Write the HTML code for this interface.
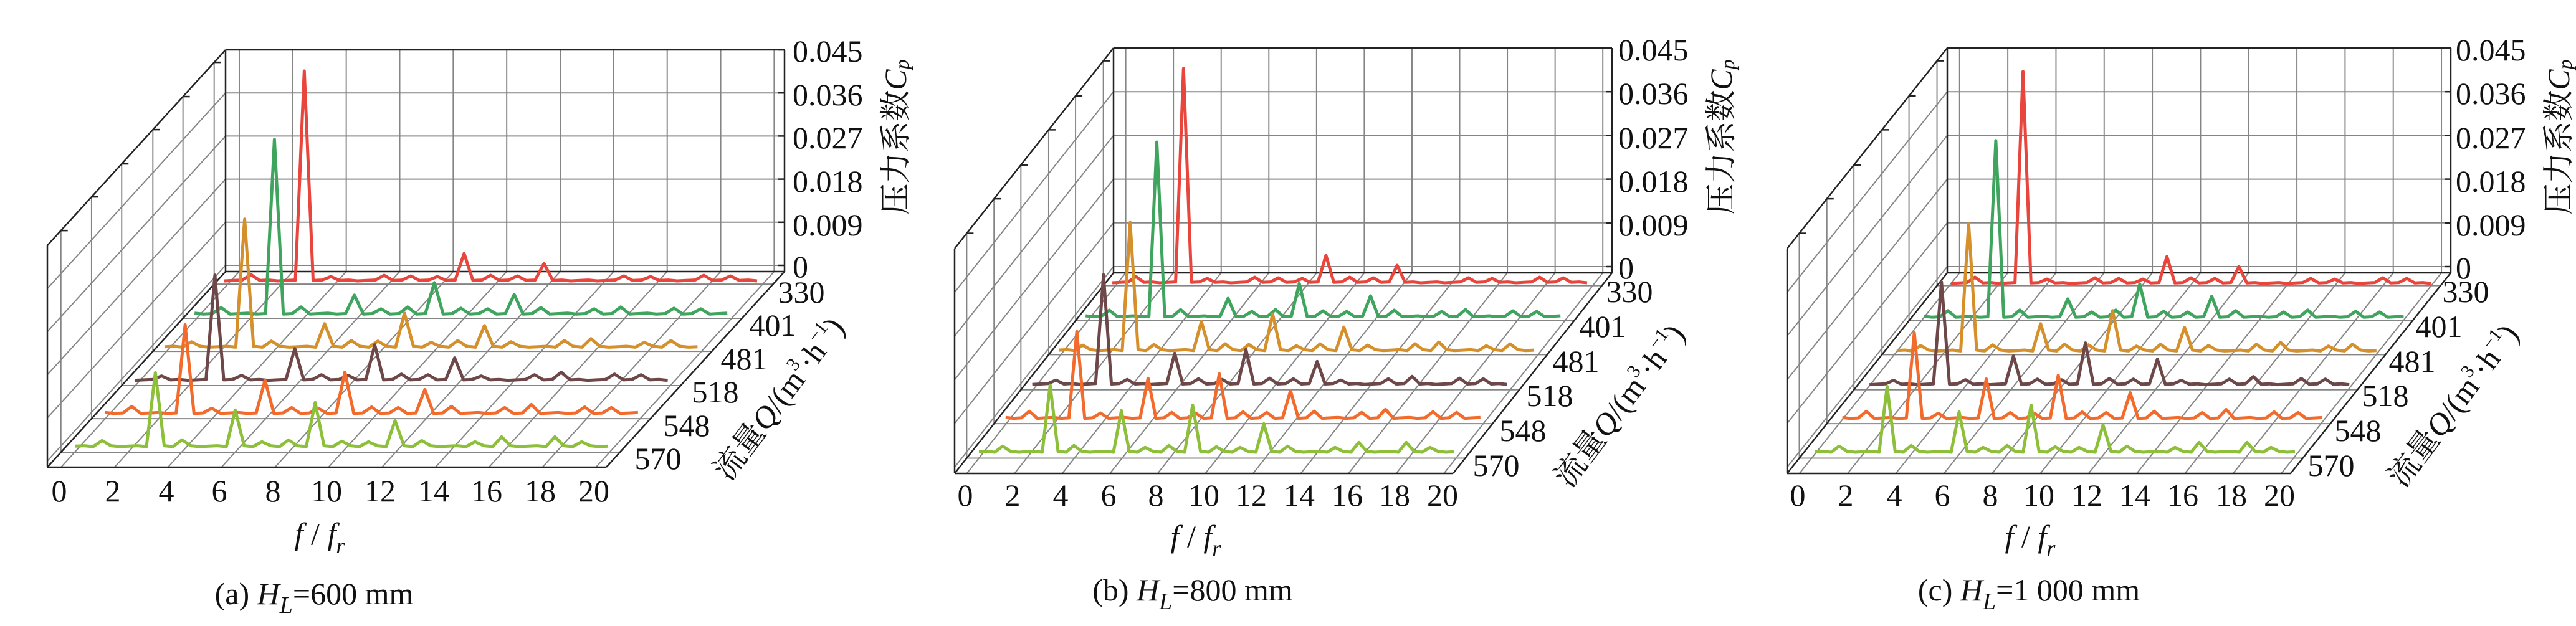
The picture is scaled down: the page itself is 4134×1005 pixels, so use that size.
<!DOCTYPE html>
<html><head><meta charset="utf-8"><style>
html,body{margin:0;padding:0;background:#fff;}
svg{display:block;}
text{font-family:"Liberation Serif","Noto Serif CJK SC",serif;fill:#111;}
.t{font-size:50px;}
.cj{font-family:"Liberation Serif","Noto Sans CJK SC",sans-serif;}
</style></head><body>
<svg id="s" width="4134" height="1005" viewBox="0 0 4134 1005" xmlns="http://www.w3.org/2000/svg">
<g id="g"></g>
<g class="t" text-anchor="middle" dominant-baseline="central">
<text x="95" y="788">0</text><text x="181" y="788">2</text><text x="267" y="788">4</text><text x="352" y="788">6</text><text x="438" y="788">8</text><text x="524" y="788">10</text><text x="610" y="788">12</text><text x="696" y="788">14</text><text x="781" y="788">16</text><text x="867" y="788">18</text><text x="953" y="788">20</text>
<text x="1549" y="795">0</text><text x="1625" y="795">2</text><text x="1702" y="795">4</text><text x="1779" y="795">6</text><text x="1855" y="795">8</text><text x="1932" y="795">10</text><text x="2008" y="795">12</text><text x="2085" y="795">14</text><text x="2162" y="795">16</text><text x="2238" y="795">18</text><text x="2315" y="795">20</text>
<text x="2885" y="795">0</text><text x="2962" y="795">2</text><text x="3040" y="795">4</text><text x="3117" y="795">6</text><text x="3194" y="795">8</text><text x="3272" y="795">10</text><text x="3349" y="795">12</text><text x="3426" y="795">14</text><text x="3503" y="795">16</text><text x="3581" y="795">18</text><text x="3658" y="795">20</text>
<text x="1286" y="469">330</text><text x="1240" y="522">401</text><text x="1194" y="576">481</text><text x="1148" y="629">518</text><text x="1102" y="683">548</text><text x="1056" y="736">570</text>
<text x="2615" y="468">330</text><text x="2572" y="524">401</text><text x="2529" y="580">481</text><text x="2487" y="635">518</text><text x="2444" y="691">548</text><text x="2401" y="747">570</text>
<text x="3957" y="468">330</text><text x="3914" y="524">401</text><text x="3871" y="580">481</text><text x="3828" y="635">518</text><text x="3784" y="691">548</text><text x="3741" y="747">570</text>
</g>
<g class="t" dominant-baseline="central">
<text x="1272" y="82">0.045</text><text x="1272" y="152">0.036</text><text x="1272" y="221">0.027</text><text x="1272" y="291">0.018</text><text x="1272" y="361">0.009</text><text x="1272" y="428">0</text>
<text x="2597" y="80">0.045</text><text x="2597" y="150">0.036</text><text x="2597" y="221">0.027</text><text x="2597" y="291">0.018</text><text x="2597" y="361">0.009</text><text x="2597" y="430">0</text>
<text x="3941" y="80">0.045</text><text x="3941" y="150">0.036</text><text x="3941" y="221">0.027</text><text x="3941" y="291">0.018</text><text x="3941" y="361">0.009</text><text x="3941" y="430">0</text>
</g>
<g class="t cj" text-anchor="middle" dominant-baseline="central" font-size="48">
<text transform="translate(1437,220) rotate(-90)">压力系数<tspan font-style="italic" font-family="Liberation Serif">C</tspan><tspan font-size="32" dy="10" font-style="italic" font-family="Liberation Serif">p</tspan></text>
<text transform="translate(2762,220) rotate(-90)">压力系数<tspan font-style="italic" font-family="Liberation Serif">C</tspan><tspan font-size="32" dy="10" font-style="italic" font-family="Liberation Serif">p</tspan></text>
<text transform="translate(4106,220) rotate(-90)">压力系数<tspan font-style="italic" font-family="Liberation Serif">C</tspan><tspan font-size="32" dy="10" font-style="italic" font-family="Liberation Serif">p</tspan></text>
<text transform="translate(1250,640) rotate(-53)">流量<tspan font-style="italic" font-family="Liberation Serif">Q</tspan><tspan font-family="Liberation Serif">/(m</tspan><tspan font-family="Liberation Serif" font-size="30" dy="-15">3</tspan><tspan font-family="Liberation Serif" dy="15">·h</tspan><tspan font-family="Liberation Serif" font-size="30" dy="-15">−1</tspan><tspan font-family="Liberation Serif" dy="15">)</tspan></text>
<text transform="translate(2599,651) rotate(-53)">流量<tspan font-style="italic" font-family="Liberation Serif">Q</tspan><tspan font-family="Liberation Serif">/(m</tspan><tspan font-family="Liberation Serif" font-size="30" dy="-15">3</tspan><tspan font-family="Liberation Serif" dy="15">·h</tspan><tspan font-family="Liberation Serif" font-size="30" dy="-15">−1</tspan><tspan font-family="Liberation Serif" dy="15">)</tspan></text>
<text transform="translate(3937,651) rotate(-53)">流量<tspan font-style="italic" font-family="Liberation Serif">Q</tspan><tspan font-family="Liberation Serif">/(m</tspan><tspan font-family="Liberation Serif" font-size="30" dy="-15">3</tspan><tspan font-family="Liberation Serif" dy="15">·h</tspan><tspan font-family="Liberation Serif" font-size="30" dy="-15">−1</tspan><tspan font-family="Liberation Serif" dy="15">)</tspan></text>
</g>
<g class="t" text-anchor="middle" font-size="56">
<text x="513" y="874"><tspan font-style="italic">f</tspan> / <tspan font-style="italic">f</tspan><tspan font-size="36" dy="14" font-style="italic">r</tspan></text>
<text x="1919" y="878"><tspan font-style="italic">f</tspan> / <tspan font-style="italic">f</tspan><tspan font-size="36" dy="14" font-style="italic">r</tspan></text>
<text x="3258" y="878"><tspan font-style="italic">f</tspan> / <tspan font-style="italic">f</tspan><tspan font-size="36" dy="14" font-style="italic">r</tspan></text>
</g>
<g class="t" text-anchor="middle" font-size="60">
<text x="504" y="970">(a) <tspan font-style="italic">H</tspan><tspan font-size="38" dy="14" font-style="italic">L</tspan><tspan dy="-14">=600 mm</tspan></text>
<text x="1914" y="964">(b) <tspan font-style="italic">H</tspan><tspan font-size="38" dy="14" font-style="italic">L</tspan><tspan dy="-14">=800 mm</tspan></text>
<text x="3256" y="964">(c) <tspan font-style="italic">H</tspan><tspan font-size="38" dy="14" font-style="italic">L</tspan><tspan dy="-14">=1 000 mm</tspan></text>
</g>
</svg>
<script>
(function(){
var NS="http://www.w3.org/2000/svg",g=document.getElementById("g");
function ln(x1,y1,x2,y2,c,w){var e=document.createElementNS(NS,"line");e.setAttribute("x1",x1);e.setAttribute("y1",y1);e.setAttribute("x2",x2);e.setAttribute("y2",y2);e.setAttribute("stroke",c);e.setAttribute("stroke-width",w);g.appendChild(e);}
function pl(pts,c,w){var e=document.createElementNS(NS,"polyline");e.setAttribute("points",pts.map(function(p){return p[0].toFixed(1)+","+p[1].toFixed(1)}).join(" "));e.setAttribute("fill","none");e.setAttribute("stroke",c);e.setAttribute("stroke-width",w);e.setAttribute("stroke-linejoin","round");g.appendChild(e);}
var GR="#858585",BK="#222";
var cols=["#e8453c","#3fa55e","#d58f2b","#6e4848","#f26a2c","#8dbf3b"];
var depths=[0.076,0.248,0.417,0.592,0.761,0.936];
var panels=[
 {fx:76,fy:750,W:897,dx:286,dy:-314,H:356,z0:10,s0:[360,451],st:[-47.8,53.2],u:42.75,
  pk:[[337,0,44,28],[279,29,49,30],[205,37,54,34],[169,51,57,36],[141,52,65,37],[118,58,70,41]]},
 {fx:1532,fy:760,W:800,dx:255,dy:-322,H:361,z0:10,s0:[1785,454],st:[-42.8,54.4],u:38.1,
  pk:[[344,0,44,28],[279,28,52,32],[205,46,58,37],[176,50,56,37],[138,63,70,43],[107,66,75,45]]},
 {fx:2868,fy:760,W:808,dx:257,dy:-322,H:361,z0:10,s0:[3131,455],st:[-43.6,54.2],u:38.5,
  pk:[[340,0,43,27],[282,28,52,32],[204,43,64,37],[165,46,67,41],[136,62,68,40],[105,64,75,43]]}
];
panels.forEach(function(P){
 var fx=P.fx,fy=P.fy,W=P.W,dx=P.dx,dy=P.dy,H=P.H;
 var bx=fx+dx,by=fy+dy;
 var zs=[];for(var k=0;k<6;k++){zs.push(P.z0+(H-P.z0)*k/5);}
 var fpos=[];for(var k=0;k<11;k++){fpos.push(0.0245*W+k*0.0957*W);}
 zs.forEach(function(z){ln(bx,by-z,bx+W,by-z,GR,2);});
 fpos.forEach(function(f){ln(bx+f,by,bx+f,by-H,GR,2);});
 depths.forEach(function(d){var x=fx+d*dx,y=fy+d*dy;ln(x,y,x,y-H,GR,2);ln(x,y-H,x+11,y-H,BK,2.5);});
 zs.forEach(function(z,i){if(i<5)ln(fx,fy-z,bx,by-z,GR,2);});
 depths.forEach(function(d){var x=fx+d*dx,y=fy+d*dy;ln(x,y,x+W,y,GR,2);});
 fpos.forEach(function(f){ln(fx+f,fy,bx+f,by,GR,2);});
 ln(bx,by,bx,by-H,BK,2.5);ln(bx,by-H,bx+W,by-H,BK,2.5);ln(bx+W,by-H,bx+W,by,BK,2.5);
 ln(fx,fy,fx,fy-H,BK,2.5);ln(fx,fy-H,bx,by-H,BK,2.5);
 ln(fx,fy,fx+W,fy,BK,2.5);ln(fx+W,fy,bx+W,by,BK,2.5);ln(fx,fy,bx,by,BK,2.5);ln(bx,by,bx+W,by,BK,2.5);
 zs.forEach(function(z){ln(bx+W,by-z,bx+W-10,by-z,BK,2.5);});
 for(var i=0;i<6;i++){
  var sx=P.s0[0]+i*P.st[0],sy=P.s0[1]+i*P.st[1];
  var h={};h[3]=P.pk[i][0];h[6]=P.pk[i][1];h[9]=P.pk[i][2];h[12]=P.pk[i][3];
  var bumps=[1,4,7,8,10,11,13,15,16,18,19];
  if(i==0)bumps=[1,4,6,7,8,10,11,15,16,18,19];
  bumps.forEach(function(b){if(!h[b])h[b]=7+((b*7+i*3)%4);});
  if(i>=2){h[16]=Math.max(h[16]||0,13);}
  if(i==5){h[18]=15;h[16]=15;}
  var pts=[];
  for(var s=0;s<=60;s++){
   var f=s/3,v=0;
   if(Math.abs(f-Math.round(f))<1e-6&&h[Math.round(f)])v=h[Math.round(f)];
   var jit=((s*13+i*5)%3)*0.7;
   pts.push([sx+f*P.u,sy-v-jit]);
  }
  pl(pts,cols[i],5);
 }
});
})();
</script>
</body></html>
